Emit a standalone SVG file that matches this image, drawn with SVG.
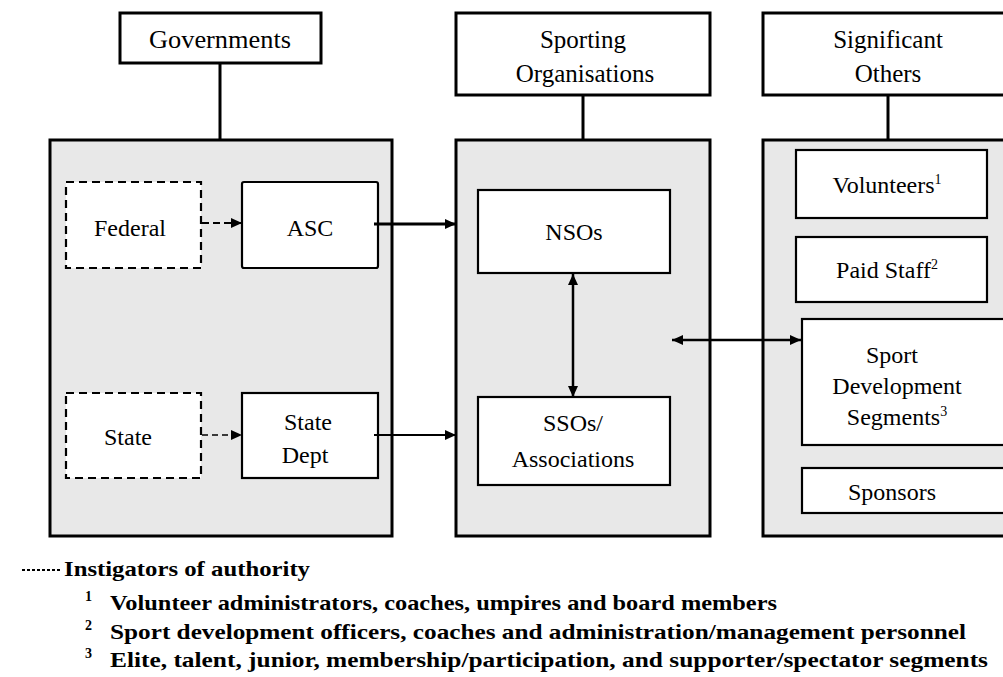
<svg xmlns="http://www.w3.org/2000/svg" width="1003" height="677" viewBox="0 0 1003 677">
  <style>
    text { font-family: "Liberation Serif", "Times New Roman", serif; fill: #000; }
    .title { font-size: 25px; text-anchor: middle; }
    .label { font-size: 24px; text-anchor: middle; }
    .note { font-size: 21px; font-weight: bold; }
    .num { font-size: 14px; font-weight: bold; }
    .head { fill: #fff; stroke: #000; stroke-width: 3; }
    .panel { fill: #e8e8e8; stroke: #000; stroke-width: 3; }
    .box { fill: #fff; stroke: #000; stroke-width: 2.2; }
    .dash { fill: #fff; stroke: #000; stroke-width: 2.2; stroke-dasharray: 8 5; }
    .link { stroke: #000; fill: none; }
  </style>
  <defs>
    <marker id="tip" markerUnits="userSpaceOnUse" markerWidth="12" markerHeight="12" refX="11" refY="6" orient="auto">
      <path d="M0,1 L11,6 L0,11 Z" fill="#000"/>
    </marker>
    <marker id="tail" markerUnits="userSpaceOnUse" markerWidth="12" markerHeight="12" refX="1" refY="6" orient="auto">
      <path d="M12,1 L1,6 L12,11 Z" fill="#000"/>
    </marker>
  </defs>

  <rect width="1003" height="677" fill="#fff"/>

  <!-- Governments -->
  <g id="governments">
    <rect class="head" x="120" y="13" width="201" height="50"/>
    <text class="title" x="220" y="48" textLength="142" lengthAdjust="spacingAndGlyphs">Governments</text>
  </g>
  <g id="gov-panel">
    <rect class="panel" x="50" y="140" width="342" height="396"/>
  </g>
  <g id="federal">
    <rect class="dash" x="66" y="182" width="135" height="86"/>
    <text class="label" x="130" y="236">Federal</text>
  </g>
  <g id="asc">
    <rect class="box" x="242" y="182" width="136" height="86" rx="2"/>
    <text class="label" x="310" y="236">ASC</text>
  </g>
  <g id="state">
    <rect class="dash" x="66" y="393" width="135" height="85"/>
    <text class="label" x="128" y="445">State</text>
  </g>
  <g id="state-dept">
    <rect class="box" x="242" y="393" width="136" height="85"/>
    <text class="label" x="308" y="430">State</text>
    <text class="label" x="305" y="463">Dept</text>
  </g>

  <!-- Sporting Organisations -->
  <g id="sporting">
    <rect class="head" x="456" y="13" width="254" height="82"/>
    <text class="title" x="583" y="48">Sporting</text>
    <text class="title" x="585" y="82">Organisations</text>
  </g>
  <g id="sport-panel">
    <rect class="panel" x="456" y="140" width="254" height="396"/>
  </g>
  <g id="nsos">
    <rect class="box" x="478" y="190" width="192" height="83"/>
    <text class="label" x="574" y="240">NSOs</text>
  </g>
  <g id="ssos">
    <rect class="box" x="478" y="397" width="192" height="88"/>
    <text class="label" x="573" y="431">SSOs/</text>
    <text class="label" x="573" y="467">Associations</text>
  </g>

  <!-- Significant Others -->
  <g id="significant">
    <rect class="head" x="763" y="13" width="260" height="82"/>
    <text class="title" x="888" y="48">Significant</text>
    <text class="title" x="888" y="82">Others</text>
  </g>
  <g id="others-panel">
    <rect class="panel" x="763" y="140" width="260" height="396"/>
  </g>
  <g id="volunteers">
    <rect class="box" x="796" y="150" width="191" height="68"/>
    <text class="label" x="887" y="193">Volunteers<tspan font-size="14" dy="-9">1</tspan></text>
  </g>
  <g id="paid-staff">
    <rect class="box" x="796" y="237" width="191" height="65"/>
    <text class="label" x="887" y="278">Paid Staff<tspan font-size="14" dy="-9">2</tspan></text>
  </g>
  <g id="segments">
    <rect class="box" x="802" y="319" width="220" height="126"/>
    <text class="label" x="892" y="363">Sport</text>
    <text class="label" x="897" y="394">Development</text>
    <text class="label" x="897" y="425">Segments<tspan font-size="14" dy="-9">3</tspan></text>
  </g>
  <g id="sponsors">
    <rect class="box" x="802" y="468" width="220" height="45"/>
    <text class="label" x="892" y="500">Sponsors</text>
  </g>

  <!-- Connectors -->
  <g id="connectors">
    <line class="link" x1="220" y1="63" x2="220" y2="140" stroke-width="3"/>
    <line class="link" x1="583" y1="95" x2="583" y2="140" stroke-width="3"/>
    <line class="link" x1="888" y1="95" x2="888" y2="140" stroke-width="3"/>
    <line class="link" x1="202" y1="223" x2="242" y2="223" stroke-width="2.2" stroke-dasharray="7 4" marker-end="url(#tip)"/>
    <line class="link" x1="202" y1="435" x2="242" y2="435" stroke-width="1.5" stroke-dasharray="6 4" marker-end="url(#tip)"/>
    <line class="link" x1="374" y1="224" x2="456" y2="224" stroke-width="3" marker-end="url(#tip)"/>
    <line class="link" x1="374" y1="435" x2="456" y2="435" stroke-width="2" marker-end="url(#tip)"/>
    <line class="link" x1="573" y1="274" x2="573" y2="397" stroke-width="2.5" marker-start="url(#tail)" marker-end="url(#tip)"/>
    <line class="link" x1="672" y1="340" x2="801" y2="340" stroke-width="2.5" marker-start="url(#tail)" marker-end="url(#tip)"/>
  </g>

  <!-- Legend and footnotes -->
  <g id="notes">
    <line x1="22" y1="570" x2="61" y2="570" stroke="#000" stroke-width="1.8" stroke-dasharray="3 2"/>
    <text class="note" x="64" y="576" textLength="246" lengthAdjust="spacingAndGlyphs">Instigators of authority</text>
    <text class="num" x="85" y="601">1</text>
    <text class="note" x="110" y="610" textLength="667" lengthAdjust="spacingAndGlyphs">Volunteer administrators, coaches, umpires and board members</text>
    <text class="num" x="85" y="630">2</text>
    <text class="note" x="110" y="639" textLength="856" lengthAdjust="spacingAndGlyphs">Sport development officers, coaches and administration/management personnel</text>
    <text class="num" x="85" y="658">3</text>
    <text class="note" x="110" y="667" textLength="878" lengthAdjust="spacingAndGlyphs">Elite, talent, junior, membership/participation, and supporter/spectator segments</text>
  </g>
</svg>
